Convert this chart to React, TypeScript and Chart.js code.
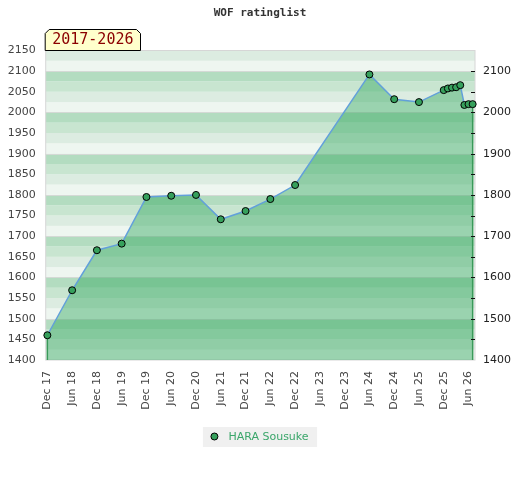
import React, { useEffect, useRef } from "react";
import { Chart, registerables } from "chart.js";

Chart.register(...registerables);

// ---- data ----
const CHART_TITLE = "WOF ratinglist";
const PERIOD_TEXT = "2017-2026";
const SERIES_NAME = "HARA Sousuke";

const DATES = [
  "2017-12", "2018-06", "2018-12", "2019-06", "2019-12", "2020-06", "2020-12",
  "2021-06", "2021-12", "2022-06", "2022-12", "2024-06", "2024-12", "2025-06",
  "2025-12", "2026-01", "2026-02", "2026-03", "2026-04", "2026-05", "2026-06", "2026-07",
];
const RATINGS = [
  1460, 1569, 1666, 1682, 1795, 1798, 1800,
  1741, 1761, 1790, 1824, 2092, 2032, 2025,
  2054, 2058, 2060, 2061, 2066, 2018, 2020, 2020,
];

const TICK_DATES = [
  "2017-12", "2018-06", "2018-12", "2019-06", "2019-12", "2020-06", "2020-12", "2021-06", "2021-12",
  "2022-06", "2022-12", "2023-06", "2023-12", "2024-06", "2024-12", "2025-06", "2025-12", "2026-06",
];
const TICK_LABELS = [
  "Dec 17", "Jun 18", "Dec 18", "Jun 19", "Dec 19", "Jun 20", "Dec 20", "Jun 21", "Dec 21",
  "Jun 22", "Dec 22", "Jun 23", "Dec 23", "Jun 24", "Dec 24", "Jun 25", "Dec 25", "Jun 26",
];

const Y_MIN = 1400;
const Y_MAX = 2150;
const LEFT_STEP = 50;
const RIGHT_STEP = 100;

// month offset from Dec 2017
const monthIndex = (s: string) => {
  const [y, m] = s.split("-").map(Number);
  return (y - 2017) * 12 + (m - 12);
};

const X_MIN = -0.4;
const X_MAX = 103.57;

const BAND_COLORS = ["#eef6f0", "#dcece1", "#c8e5d0", "#b3dcc0"];

const decorPlugin = {
  id: "decor",
  beforeDraw(chart: any) {
    const { ctx, chartArea: a, scales } = chart;
    const y = scales.y;
    ctx.save();
    ctx.fillStyle = "#ffffff";
    ctx.fillRect(0, 0, chart.width, chart.height);
    for (let v = Y_MIN; v < Y_MAX; v += 25) {
      const idx = Math.round((v % 100) / 25);
      const y1 = y.getPixelForValue(v + 25);
      const y0 = y.getPixelForValue(v);
      ctx.fillStyle = BAND_COLORS[idx];
      ctx.fillRect(a.left, y1, a.right - a.left, y0 - y1);
    }
    ctx.strokeStyle = "#d4d9d5";
    ctx.lineWidth = 1;
    for (let v = Y_MIN + 100; v < Y_MAX; v += 100) {
      const py = Math.round(y.getPixelForValue(v)) + 0.5;
      ctx.beginPath();
      ctx.moveTo(a.left, py);
      ctx.lineTo(a.right, py);
      ctx.stroke();
    }
    ctx.strokeStyle = "#d6d6d6";
    ctx.strokeRect(a.left, a.top, a.right - a.left, a.bottom - a.top);
    ctx.restore();
  },
  beforeDatasetDraw(chart: any, args: any) {
    if (args.index !== 0) return;
    const { ctx, chartArea: a } = chart;
    const pts = chart.getDatasetMeta(0).data;
    if (!pts.length) return;
    ctx.save();
    ctx.strokeStyle = "#3a9a5a";
    ctx.lineWidth = 1.5;
    for (const p of [pts[0], pts[pts.length - 1]]) {
      ctx.beginPath();
      ctx.moveTo(p.x, p.y);
      ctx.lineTo(p.x, a.bottom);
      ctx.stroke();
    }
    ctx.restore();
  },
  afterDraw(chart: any) {
    const { ctx, chartArea: a, scales } = chart;
    const y = scales.y;
    ctx.save();
    // inner tick marks on right axis
    ctx.strokeStyle = "#111";
    ctx.lineWidth = 1;
    for (let v = Y_MIN + LEFT_STEP; v < Y_MAX; v += LEFT_STEP) {
      const py = Math.round(y.getPixelForValue(v)) + 0.5;
      ctx.beginPath();
      ctx.moveTo(a.right - 4, py);
      ctx.lineTo(a.right, py);
      ctx.stroke();
    }
    // title
    ctx.fillStyle = "#333";
    ctx.font = 'bold 11px "DejaVu Sans Mono"';
    ctx.textAlign = "center";
    ctx.textBaseline = "middle";
    ctx.fillText(CHART_TITLE, 260, 13);
    // period tag
    const l = a.left - 0.5, r = 140.5, t = 29.5, b = a.top;
    ctx.beginPath();
    ctx.moveTo(l, b);
    ctx.lineTo(l, t + 4);
    ctx.lineTo(l + 4, t);
    ctx.lineTo(r - 4, t);
    ctx.lineTo(r, t + 4);
    ctx.lineTo(r, b);
    ctx.closePath();
    ctx.fillStyle = "#ffffcc";
    ctx.fill();
    ctx.strokeStyle = "#000";
    ctx.stroke();
    ctx.fillStyle = "#8b0000";
    ctx.font = '15px "DejaVu Sans Mono"';
    ctx.fillText(PERIOD_TEXT, (l + r) / 2, 40.5);
    // legend
    const ds = chart.data.datasets[0];
    ctx.font = '11px "DejaVu Sans"';
    const tw = ctx.measureText(ds.label).width;
    const boxW = tw + 34;
    const boxL = 260 - boxW / 2;
    ctx.fillStyle = "#f0f0f0";
    ctx.fillRect(boxL, 427, boxW, 20);
    ctx.beginPath();
    ctx.arc(boxL + 11.5, 436.5, 3.5, 0, Math.PI * 2);
    ctx.fillStyle = ds.pointBackgroundColor;
    ctx.fill();
    ctx.strokeStyle = "#000";
    ctx.stroke();
    ctx.fillStyle = "#3aa66a";
    ctx.textAlign = "left";
    ctx.fillText(ds.label, boxL + 25.5, 437);
    ctx.restore();
  },
};

export default function App() {
  const ref = useRef<HTMLCanvasElement>(null);
  useEffect(() => {
    if (!ref.current) return;
    const tickMonths = TICK_DATES.map(monthIndex);
    const points = DATES.map((d, i) => ({ x: monthIndex(d), y: RATINGS[i] }));
    const tickFont = { family: '"DejaVu Sans"', size: 11 };
    const plain = (v: any) => String(v);
    const chart = new Chart(ref.current, {
      type: "line",
      data: {
        datasets: [
          {
            label: SERIES_NAME,
            data: points,
            borderColor: "#62a0da",
            borderWidth: 1.5,
            backgroundColor: "rgba(39,163,85,0.42)",
            fill: "start",
            tension: 0,
            pointRadius: 3.5,
            pointBackgroundColor: "#36a05c",
            pointBorderColor: "#000",
            pointBorderWidth: 1,
            clip: 6,
          } as any,
        ],
      },
      options: {
        responsive: false,
        animation: false,
        layout: { padding: { top: 50.5, left: 0, right: 0, bottom: 0 } },
        plugins: {
          legend: { display: false },
          title: { display: false },
          tooltip: { enabled: false },
          filler: { drawTime: "beforeDatasetsDraw" } as any,
        },
        scales: {
          x: {
            type: "linear",
            min: X_MIN,
            max: X_MAX,
            afterBuildTicks: (scale: any) => {
              scale.ticks = tickMonths.map((value) => ({ value }));
            },
            afterFit: (scale: any) => {
              scale.height = 120;
            },
            ticks: {
              autoSkip: false,
              minRotation: 90,
              maxRotation: 90,
              padding: 11,
              color: "#444",
              font: tickFont,
              callback: (_v: any, i: number) => TICK_LABELS[i],
            },
            grid: { display: false, drawTicks: false },
            border: { display: false },
          },
          y: {
            type: "linear",
            position: "left",
            min: Y_MIN,
            max: Y_MAX,
            afterFit: (scale: any) => {
              scale.width = 45.7;
            },
            ticks: { stepSize: LEFT_STEP, padding: 10, color: "#444", font: tickFont, callback: plain },
            grid: { display: false, drawTicks: false },
            border: { display: false },
          },
          y2: {
            type: "linear",
            position: "right",
            min: Y_MIN,
            max: Y_MAX,
            afterFit: (scale: any) => {
              scale.width = 45;
            },
            ticks: {
              stepSize: RIGHT_STEP,
              includeBounds: false,
              padding: 8,
              color: "#222",
              font: tickFont,
              callback: plain,
            },
            grid: { display: false, drawTicks: false },
            border: { display: false },
          },
        },
      },
      plugins: [decorPlugin],
    });
    return () => chart.destroy();
  }, []);
  return (
    <div style={{ position: "absolute", left: 0, top: 0, width: 520, height: 480 }}>
      <canvas ref={ref} width={520} height={480} style={{ width: 520, height: 480 }} />
    </div>
  );
}
